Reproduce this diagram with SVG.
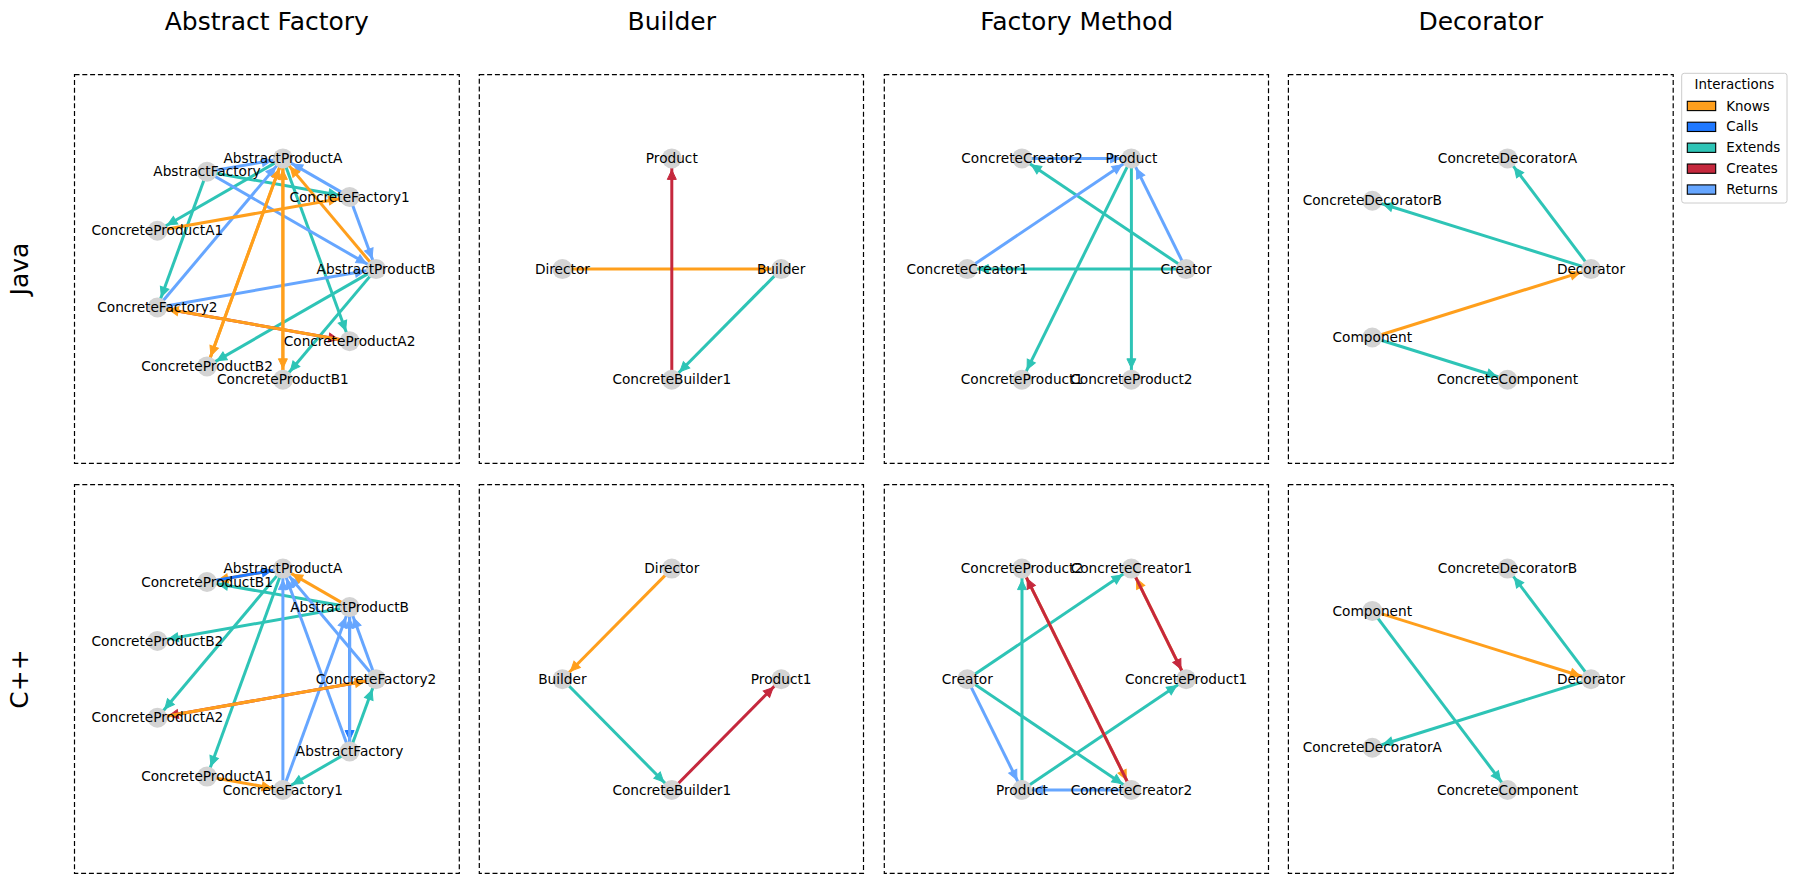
<svg xmlns="http://www.w3.org/2000/svg" width="1797" height="884" viewBox="0 0 1797 884">
<style>
.bg{fill:#ffffff}
.panel{fill:none;stroke:#000;stroke-width:1.2;stroke-dasharray:5,2.8}
.title{font-family:"DejaVu Sans","Liberation Sans",sans-serif;font-size:25px;fill:#000;text-anchor:middle}
.lbl{font-family:"DejaVu Sans","Liberation Sans",sans-serif;font-size:13.7px;fill:#000;text-anchor:middle}
.nd{fill:#d3d3d3}
.e{fill:none;stroke-width:3}
.k{stroke:#FF9F1C;marker-end:url(#mk)}
.c{stroke:#1F78FF;marker-end:url(#mc)}
.x{stroke:#2EC4B6;marker-end:url(#mx)}
.r{stroke:#C5283D;marker-end:url(#mr)}
.t{stroke:#66A6FF;marker-end:url(#mt)}
.ah{stroke-width:1;stroke-linejoin:miter}
.leg{font-family:"DejaVu Sans","Liberation Sans",sans-serif;font-size:13.4px;fill:#000}
.sw{stroke:#000;stroke-width:1.1}
</style>
<defs>
<marker id="mk" markerUnits="userSpaceOnUse" markerWidth="23" markerHeight="11" refX="21" refY="4.5" orient="auto" overflow="visible"><path class="ah" d="M0,0 L9.5,4.5 L0,9 z" fill="#FF9F1C" stroke="#FF9F1C"/></marker>
<marker id="mc" markerUnits="userSpaceOnUse" markerWidth="23" markerHeight="11" refX="21" refY="4.5" orient="auto" overflow="visible"><path class="ah" d="M0,0 L9.5,4.5 L0,9 z" fill="#1F78FF" stroke="#1F78FF"/></marker>
<marker id="mx" markerUnits="userSpaceOnUse" markerWidth="23" markerHeight="11" refX="21" refY="4.5" orient="auto" overflow="visible"><path class="ah" d="M0,0 L9.5,4.5 L0,9 z" fill="#2EC4B6" stroke="#2EC4B6"/></marker>
<marker id="mr" markerUnits="userSpaceOnUse" markerWidth="23" markerHeight="11" refX="21" refY="4.5" orient="auto" overflow="visible"><path class="ah" d="M0,0 L9.5,4.5 L0,9 z" fill="#C5283D" stroke="#C5283D"/></marker>
<marker id="mt" markerUnits="userSpaceOnUse" markerWidth="23" markerHeight="11" refX="21" refY="4.5" orient="auto" overflow="visible"><path class="ah" d="M0,0 L9.5,4.5 L0,9 z" fill="#66A6FF" stroke="#66A6FF"/></marker>
</defs>
<rect class="bg" x="0" y="0" width="1797" height="884"/>

<g id="titles">
<text class="title" x="266.8" y="30">Abstract Factory</text>
<text class="title" x="671.8" y="30">Builder</text>
<text class="title" x="1076.7" y="30">Factory Method</text>
<text class="title" x="1480.8" y="30">Decorator</text>
<text class="title" x="28" y="269" transform="rotate(-90 28 269)">Java</text>
<text class="title" x="28" y="679" transform="rotate(-90 28 679)">C++</text>
</g>

<g id="panels">
<rect class="panel" x="74.5" y="74.7" width="384.8" height="388.6"/>
<rect class="panel" x="479.3" y="74.7" width="384.2" height="388.6"/>
<rect class="panel" x="884.3" y="74.7" width="384.2" height="388.6"/>
<rect class="panel" x="1288.4" y="74.7" width="384.8" height="388.6"/>
<rect class="panel" x="74.5" y="484.7" width="384.8" height="388.6"/>
<rect class="panel" x="479.3" y="484.7" width="384.2" height="388.6"/>
<rect class="panel" x="884.3" y="484.7" width="384.2" height="388.6"/>
<rect class="panel" x="1288.4" y="484.7" width="384.8" height="388.6"/>
</g>

<g id="connectors">
<!-- Abstract Factory Java -->
<line class="e x" x1="282.9" y1="158.4" x2="157.4" y2="230.7"/>
<line class="e x" x1="207.0" y1="171.8" x2="157.4" y2="307.5"/>
<line class="e x" x1="207.0" y1="171.8" x2="349.6" y2="196.9"/>
<line class="e x" x1="282.9" y1="158.4" x2="349.6" y2="341.3"/>
<line class="e x" x1="376.0" y1="269.1" x2="207.0" y2="366.4"/>
<line class="e x" x1="376.0" y1="269.1" x2="282.9" y2="379.8"/>
<line class="e t" x1="207.0" y1="171.8" x2="282.9" y2="158.4"/>
<line class="e t" x1="207.0" y1="171.8" x2="376.0" y2="269.1"/>
<line class="e t" x1="349.6" y1="196.9" x2="282.9" y2="158.4"/>
<line class="e t" x1="349.6" y1="196.9" x2="376.0" y2="269.1"/>
<line class="e t" x1="157.4" y1="307.5" x2="282.9" y2="158.4"/>
<line class="e t" x1="157.4" y1="307.5" x2="376.0" y2="269.1"/>
<line class="e k" x1="157.4" y1="230.7" x2="349.6" y2="196.9"/>
<line class="e r" x1="157.4" y1="307.5" x2="349.6" y2="341.3"/>
<line class="e k" x1="349.6" y1="341.3" x2="157.4" y2="307.5"/>
<line class="e k" x1="282.9" y1="158.4" x2="207.0" y2="366.4"/>
<line class="e k" x1="207.0" y1="366.4" x2="282.9" y2="158.4"/>
<line class="e k" x1="282.9" y1="158.4" x2="282.9" y2="379.8"/>
<line class="e k" x1="282.9" y1="379.8" x2="282.9" y2="158.4"/>
<line class="e k" x1="376.0" y1="269.1" x2="282.9" y2="158.4"/>

<!-- Abstract Factory C++ -->
<line class="e x" x1="349.6" y1="607.1" x2="207.0" y2="582.0"/>
<line class="e x" x1="349.6" y1="607.1" x2="157.4" y2="640.9"/>
<line class="e x" x1="282.9" y1="568.6" x2="157.4" y2="717.7"/>
<line class="e x" x1="282.9" y1="568.6" x2="207.0" y2="776.6"/>
<line class="e x" x1="349.6" y1="751.5" x2="376.0" y2="679.3"/>
<line class="e x" x1="349.6" y1="751.5" x2="282.9" y2="790.0"/>
<line class="e t" x1="282.9" y1="790.0" x2="282.9" y2="568.6"/>
<line class="e t" x1="282.9" y1="790.0" x2="349.6" y2="607.1"/>
<line class="e t" x1="349.6" y1="751.5" x2="282.9" y2="568.6"/>
<line class="e t" x1="376.0" y1="679.3" x2="282.9" y2="568.6"/>
<line class="e t" x1="376.0" y1="679.3" x2="349.6" y2="607.1"/>
<line class="e c" x1="349.6" y1="607.1" x2="349.6" y2="751.5"/>
<line class="e t" x1="349.6" y1="751.5" x2="349.6" y2="607.1"/>
<line class="e k" x1="349.6" y1="607.1" x2="282.9" y2="568.6"/>
<line class="e k" x1="282.9" y1="568.6" x2="207.0" y2="582.0"/>
<line class="e c" x1="207.0" y1="582.0" x2="282.9" y2="568.6"/>
<line class="e r" x1="376.0" y1="679.3" x2="157.4" y2="717.7"/>
<line class="e k" x1="157.4" y1="717.7" x2="376.0" y2="679.3"/>
<line class="e k" x1="207.0" y1="776.6" x2="282.9" y2="790.0"/>

<!-- Builder Java -->
<line class="e k" x1="562.4" y1="269.1" x2="781.2" y2="269.1"/>
<line class="e r" x1="671.8" y1="379.8" x2="671.8" y2="158.4"/>
<line class="e x" x1="781.2" y1="269.1" x2="671.8" y2="379.8"/>

<!-- Builder C++ -->
<line class="e k" x1="671.8" y1="568.6" x2="562.4" y2="679.3"/>
<line class="e x" x1="562.4" y1="679.3" x2="671.8" y2="790.0"/>
<line class="e r" x1="671.8" y1="790.0" x2="781.2" y2="679.3"/>

<!-- Factory Method Java -->
<line class="e x" x1="1186.1" y1="269.1" x2="1022.0" y2="158.4"/>
<line class="e x" x1="1186.1" y1="269.1" x2="967.3" y2="269.1"/>
<line class="e x" x1="1131.4" y1="158.4" x2="1022.0" y2="379.8"/>
<line class="e x" x1="1131.4" y1="158.4" x2="1131.4" y2="379.8"/>
<line class="e t" x1="1022.0" y1="158.4" x2="1131.4" y2="158.4"/>
<line class="e t" x1="967.3" y1="269.1" x2="1131.4" y2="158.4"/>
<line class="e t" x1="1186.1" y1="269.1" x2="1131.4" y2="158.4"/>

<!-- Factory Method C++ -->
<line class="e x" x1="1022.0" y1="790.0" x2="1022.0" y2="568.6"/>
<line class="e x" x1="967.3" y1="679.3" x2="1131.4" y2="568.6"/>
<line class="e x" x1="967.3" y1="679.3" x2="1131.4" y2="790.0"/>
<line class="e x" x1="1022.0" y1="790.0" x2="1186.1" y2="679.3"/>
<line class="e t" x1="967.3" y1="679.3" x2="1022.0" y2="790.0"/>
<line class="e t" x1="1131.4" y1="790.0" x2="1022.0" y2="790.0"/>
<line class="e k" x1="1022.0" y1="568.6" x2="1131.4" y2="790.0"/>
<line class="e r" x1="1131.4" y1="790.0" x2="1022.0" y2="568.6"/>
<line class="e k" x1="1186.1" y1="679.3" x2="1131.4" y2="568.6"/>
<line class="e r" x1="1131.4" y1="568.6" x2="1186.1" y2="679.3"/>

<!-- Decorator Java -->
<line class="e x" x1="1591.0" y1="269.1" x2="1507.5" y2="158.4"/>
<line class="e x" x1="1591.0" y1="269.1" x2="1372.3" y2="200.7"/>
<line class="e k" x1="1372.3" y1="337.5" x2="1591.0" y2="269.1"/>
<line class="e x" x1="1372.3" y1="337.5" x2="1507.5" y2="379.8"/>

<!-- Decorator C++ -->
<line class="e x" x1="1591.0" y1="679.3" x2="1507.5" y2="568.6"/>
<line class="e k" x1="1372.3" y1="610.9" x2="1591.0" y2="679.3"/>
<line class="e x" x1="1591.0" y1="679.3" x2="1372.3" y2="747.7"/>
<line class="e x" x1="1372.3" y1="610.9" x2="1507.5" y2="790.0"/>
</g>

<!-- Abstract Factory Java nodes -->
<g id="afj-AbstractProductB"><circle class="nd" cx="376.0" cy="269.1" r="10"/><text class="lbl" x="376.0" y="273.7">AbstractProductB</text></g>
<g id="afj-ConcreteFactory1"><circle class="nd" cx="349.6" cy="196.9" r="10"/><text class="lbl" x="349.6" y="201.5">ConcreteFactory1</text></g>
<g id="afj-AbstractProductA"><circle class="nd" cx="282.9" cy="158.4" r="10"/><text class="lbl" x="282.9" y="163.0">AbstractProductA</text></g>
<g id="afj-AbstractFactory"><circle class="nd" cx="207.0" cy="171.8" r="10"/><text class="lbl" x="207.0" y="176.4">AbstractFactory</text></g>
<g id="afj-ConcreteProductA1"><circle class="nd" cx="157.4" cy="230.7" r="10"/><text class="lbl" x="157.4" y="235.3">ConcreteProductA1</text></g>
<g id="afj-ConcreteFactory2"><circle class="nd" cx="157.4" cy="307.5" r="10"/><text class="lbl" x="157.4" y="312.1">ConcreteFactory2</text></g>
<g id="afj-ConcreteProductB2"><circle class="nd" cx="207.0" cy="366.4" r="10"/><text class="lbl" x="207.0" y="371.0">ConcreteProductB2</text></g>
<g id="afj-ConcreteProductB1"><circle class="nd" cx="282.9" cy="379.8" r="10"/><text class="lbl" x="282.9" y="384.4">ConcreteProductB1</text></g>
<g id="afj-ConcreteProductA2"><circle class="nd" cx="349.6" cy="341.3" r="10"/><text class="lbl" x="349.6" y="345.9">ConcreteProductA2</text></g>

<!-- Abstract Factory C++ nodes -->
<g id="afc-ConcreteFactory2"><circle class="nd" cx="376.0" cy="679.3" r="10"/><text class="lbl" x="376.0" y="683.9">ConcreteFactory2</text></g>
<g id="afc-AbstractProductB"><circle class="nd" cx="349.6" cy="607.1" r="10"/><text class="lbl" x="349.6" y="611.7">AbstractProductB</text></g>
<g id="afc-AbstractProductA"><circle class="nd" cx="282.9" cy="568.6" r="10"/><text class="lbl" x="282.9" y="573.2">AbstractProductA</text></g>
<g id="afc-ConcreteProductB1"><circle class="nd" cx="207.0" cy="582.0" r="10"/><text class="lbl" x="207.0" y="586.6">ConcreteProductB1</text></g>
<g id="afc-ConcreteProductB2"><circle class="nd" cx="157.4" cy="640.9" r="10"/><text class="lbl" x="157.4" y="645.5">ConcreteProductB2</text></g>
<g id="afc-ConcreteProductA2"><circle class="nd" cx="157.4" cy="717.7" r="10"/><text class="lbl" x="157.4" y="722.3">ConcreteProductA2</text></g>
<g id="afc-ConcreteProductA1"><circle class="nd" cx="207.0" cy="776.6" r="10"/><text class="lbl" x="207.0" y="781.2">ConcreteProductA1</text></g>
<g id="afc-ConcreteFactory1"><circle class="nd" cx="282.9" cy="790.0" r="10"/><text class="lbl" x="282.9" y="794.6">ConcreteFactory1</text></g>
<g id="afc-AbstractFactory"><circle class="nd" cx="349.6" cy="751.5" r="10"/><text class="lbl" x="349.6" y="756.1">AbstractFactory</text></g>

<!-- Builder Java nodes -->
<g id="bj-Product"><circle class="nd" cx="671.8" cy="158.4" r="10"/><text class="lbl" x="671.8" y="163.0">Product</text></g>
<g id="bj-Director"><circle class="nd" cx="562.4" cy="269.1" r="10"/><text class="lbl" x="562.4" y="273.7">Director</text></g>
<g id="bj-Builder"><circle class="nd" cx="781.2" cy="269.1" r="10"/><text class="lbl" x="781.2" y="273.7">Builder</text></g>
<g id="bj-ConcreteBuilder1"><circle class="nd" cx="671.8" cy="379.8" r="10"/><text class="lbl" x="671.8" y="384.4">ConcreteBuilder1</text></g>

<!-- Builder C++ nodes -->
<g id="bc-Director"><circle class="nd" cx="671.8" cy="568.6" r="10"/><text class="lbl" x="671.8" y="573.2">Director</text></g>
<g id="bc-Builder"><circle class="nd" cx="562.4" cy="679.3" r="10"/><text class="lbl" x="562.4" y="683.9">Builder</text></g>
<g id="bc-Product1"><circle class="nd" cx="781.2" cy="679.3" r="10"/><text class="lbl" x="781.2" y="683.9">Product1</text></g>
<g id="bc-ConcreteBuilder1"><circle class="nd" cx="671.8" cy="790.0" r="10"/><text class="lbl" x="671.8" y="794.6">ConcreteBuilder1</text></g>

<!-- Factory Method Java nodes -->
<g id="fmj-Creator"><circle class="nd" cx="1186.1" cy="269.1" r="10"/><text class="lbl" x="1186.1" y="273.7">Creator</text></g>
<g id="fmj-Product"><circle class="nd" cx="1131.4" cy="158.4" r="10"/><text class="lbl" x="1131.4" y="163.0">Product</text></g>
<g id="fmj-ConcreteCreator2"><circle class="nd" cx="1022.0" cy="158.4" r="10"/><text class="lbl" x="1022.0" y="163.0">ConcreteCreator2</text></g>
<g id="fmj-ConcreteCreator1"><circle class="nd" cx="967.3" cy="269.1" r="10"/><text class="lbl" x="967.3" y="273.7">ConcreteCreator1</text></g>
<g id="fmj-ConcreteProduct1"><circle class="nd" cx="1022.0" cy="379.8" r="10"/><text class="lbl" x="1022.0" y="384.4">ConcreteProduct1</text></g>
<g id="fmj-ConcreteProduct2"><circle class="nd" cx="1131.4" cy="379.8" r="10"/><text class="lbl" x="1131.4" y="384.4">ConcreteProduct2</text></g>

<!-- Factory Method C++ nodes -->
<g id="fmc-ConcreteProduct1"><circle class="nd" cx="1186.1" cy="679.3" r="10"/><text class="lbl" x="1186.1" y="683.9">ConcreteProduct1</text></g>
<g id="fmc-ConcreteCreator1"><circle class="nd" cx="1131.4" cy="568.6" r="10"/><text class="lbl" x="1131.4" y="573.2">ConcreteCreator1</text></g>
<g id="fmc-ConcreteProduct2"><circle class="nd" cx="1022.0" cy="568.6" r="10"/><text class="lbl" x="1022.0" y="573.2">ConcreteProduct2</text></g>
<g id="fmc-Creator"><circle class="nd" cx="967.3" cy="679.3" r="10"/><text class="lbl" x="967.3" y="683.9">Creator</text></g>
<g id="fmc-Product"><circle class="nd" cx="1022.0" cy="790.0" r="10"/><text class="lbl" x="1022.0" y="794.6">Product</text></g>
<g id="fmc-ConcreteCreator2"><circle class="nd" cx="1131.4" cy="790.0" r="10"/><text class="lbl" x="1131.4" y="794.6">ConcreteCreator2</text></g>

<!-- Decorator Java nodes -->
<g id="dj-Decorator"><circle class="nd" cx="1591.0" cy="269.1" r="10"/><text class="lbl" x="1591.0" y="273.7">Decorator</text></g>
<g id="dj-ConcreteDecoratorA"><circle class="nd" cx="1507.5" cy="158.4" r="10"/><text class="lbl" x="1507.5" y="163.0">ConcreteDecoratorA</text></g>
<g id="dj-ConcreteDecoratorB"><circle class="nd" cx="1372.3" cy="200.7" r="10"/><text class="lbl" x="1372.3" y="205.3">ConcreteDecoratorB</text></g>
<g id="dj-Component"><circle class="nd" cx="1372.3" cy="337.5" r="10"/><text class="lbl" x="1372.3" y="342.1">Component</text></g>
<g id="dj-ConcreteComponent"><circle class="nd" cx="1507.5" cy="379.8" r="10"/><text class="lbl" x="1507.5" y="384.4">ConcreteComponent</text></g>

<!-- Decorator C++ nodes -->
<g id="dc-Decorator"><circle class="nd" cx="1591.0" cy="679.3" r="10"/><text class="lbl" x="1591.0" y="683.9">Decorator</text></g>
<g id="dc-ConcreteDecoratorB"><circle class="nd" cx="1507.5" cy="568.6" r="10"/><text class="lbl" x="1507.5" y="573.2">ConcreteDecoratorB</text></g>
<g id="dc-Component"><circle class="nd" cx="1372.3" cy="610.9" r="10"/><text class="lbl" x="1372.3" y="615.5">Component</text></g>
<g id="dc-ConcreteDecoratorA"><circle class="nd" cx="1372.3" cy="747.7" r="10"/><text class="lbl" x="1372.3" y="752.3">ConcreteDecoratorA</text></g>
<g id="dc-ConcreteComponent"><circle class="nd" cx="1507.5" cy="790.0" r="10"/><text class="lbl" x="1507.5" y="794.6">ConcreteComponent</text></g>

<g id="legend">
<rect x="1681.7" y="73.3" width="105.3" height="129.7" rx="2.5" fill="#fff" fill-opacity="0.8" stroke="#cccccc" stroke-width="1"/>
<text class="leg" x="1734.4" y="89" text-anchor="middle">Interactions</text>
<rect class="sw" x="1687.3" y="101.3" width="28.4" height="9.3" fill="#FF9F1C"/>
<text class="leg" x="1726.3" y="110.5">Knows</text>
<rect class="sw" x="1687.3" y="122.2" width="28.4" height="9.3" fill="#1F78FF"/>
<text class="leg" x="1726.3" y="131.4">Calls</text>
<rect class="sw" x="1687.3" y="143.1" width="28.4" height="9.3" fill="#2EC4B6"/>
<text class="leg" x="1726.3" y="152.3">Extends</text>
<rect class="sw" x="1687.3" y="164.0" width="28.4" height="9.3" fill="#C5283D"/>
<text class="leg" x="1726.3" y="173.2">Creates</text>
<rect class="sw" x="1687.3" y="184.9" width="28.4" height="9.3" fill="#66A6FF"/>
<text class="leg" x="1726.3" y="194.1">Returns</text>
</g>
</svg>
